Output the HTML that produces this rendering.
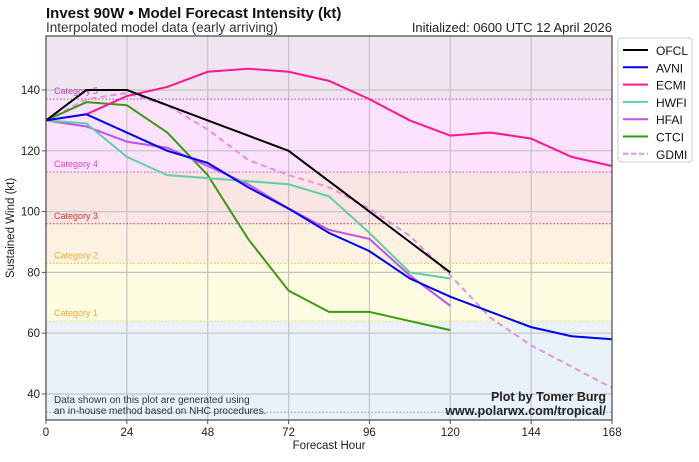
<!DOCTYPE html>
<html><head><meta charset="utf-8"><style>
body{margin:0;background:#fff;width:699px;height:457px;overflow:hidden}
svg{font-family:"Liberation Sans",sans-serif}
</style></head><body>
<svg id="s" width="699" height="457" viewBox="0 0 699 457" xmlns="http://www.w3.org/2000/svg">
<g id="bands"></g>
<g id="grid"></g>
<g id="lines"></g>
<rect x="46" y="36" width="566" height="384" fill="none" stroke="#555" stroke-width="1.3"/>
<text x="46" y="18" font-size="15" font-weight="bold" fill="#111">Invest 90W • Model Forecast Intensity (kt)</text>
<text x="46" y="32" font-size="13.5" fill="#333">Interpolated model data (early arriving)</text>
<text x="612" y="32" font-size="13" fill="#222" text-anchor="end">Initialized: 0600 UTC 12 April 2026</text>
<text x="54" y="403" font-size="10" fill="#333">Data shown on this plot are generated using</text>
<text x="54" y="414" font-size="10" fill="#333">an in-house method based on NHC procedures.</text>
<text x="606" y="401" font-size="12.5" font-weight="bold" fill="#222" text-anchor="end">Plot by Tomer Burg</text>
<text x="606" y="415" font-size="12.5" font-weight="bold" fill="#222" text-anchor="end">www.polarwx.com/tropical/</text>
<text x="329" y="449" font-size="11.5" fill="#222" text-anchor="middle">Forecast Hour</text>
<text transform="translate(14,228) rotate(-90)" font-size="11.5" fill="#222" text-anchor="middle">Sustained Wind (kt)</text>
<g id="legend">
<rect x="618" y="38" width="74" height="124" rx="3" fill="#fff" stroke="#ccc"/>
</g>
</svg>
<script>
const X=h=>46+h*566/168, Y=v=>90+(140-v)*3.04;
const ns="http://www.w3.org/2000/svg";
function el(p,t,a,txt){const e=document.createElementNS(ns,t);for(const k in a)e.setAttribute(k,a[k]);if(txt!==undefined)e.textContent=txt;document.getElementById(p).appendChild(e);return e;}
const bands=[[158,137,"#f0e4f0"],[137,113,"#fde2fd"],[113,96,"#fae4e4"],[96,83,"#fdf1e2"],[83,64,"#fefde2"],[64,31.5,"#e9f1f9"]];
bands.forEach(b=>el("bands","rect",{x:46,y:Y(b[0]),width:566,height:Y(b[1])-Y(b[0]),fill:b[2]}));
for(let h=24;h<168;h+=24)el("grid","line",{x1:X(h),x2:X(h),y1:36,y2:420,stroke:"#c4c4c4","stroke-width":1.2});
for(let v=40;v<=140;v+=20)el("grid","line",{x1:46,x2:612,y1:Y(v),y2:Y(v),stroke:"#c4c4c4","stroke-width":1.2});
[[137,"#c040c0","Category 5"],[113,"#e040e0","Category 4"],[96,"#e03030","Category 3"],[83,"#f0b030","Category 2"],[64,"#f0e040","Category 1"],[34,"#60a0f0",null]].forEach(c=>{
el("grid","line",{x1:46,x2:612,y1:Y(c[0]),y2:Y(c[0]),stroke:c[1],"stroke-width":1,"stroke-dasharray":"1.5,2"});
if(c[2])el("grid","text",{x:54,y:Y(c[0])-5,"font-size":9,fill:c[1]==="#f0e040"?"#f0a830":c[1]},c[2]);});
for(let h=0;h<=168;h+=24){el("grid","line",{x1:X(h),x2:X(h),y1:420,y2:424,stroke:"#555"});el("grid","text",{x:X(h),y:436,"font-size":11.5,fill:"#222","text-anchor":"middle"},h);}
for(let v=40;v<=140;v+=20){el("grid","line",{x1:42,x2:46,y1:Y(v),y2:Y(v),stroke:"#555"});el("grid","text",{x:40,y:Y(v)+4,"font-size":11.5,fill:"#222","text-anchor":"end"},v);}
const S=[
["OFCL","#000",[130,140,140,135,130,125,120,110,100,90,80],0],
["AVNI","#0000ee",[130,132,126,120,116,108,101,93,87,78,72,67,62,59,58],0],
["ECMI","#ff1493",[130,132,138,141,146,147,146,143,137,130,125,126,124,118,115],0],
["HWFI","#5fcfa8",[130,129,118,112,111,110,109,105,93,80,78],0],
["HFAI","#c050f0",[130,128,123,121,115,109,101,94,91,79,69],0],
["CTCI","#3a9a10",[130,136,135,126,112,91,74,67,67,64,61],0],
["GDMI","#e890e8",[130,137,139,135,127,117,112,108,101,92,79,65,56,49,42],1]];
S.slice().reverse().forEach(s=>{el("lines","polyline",{points:s[2].map((v,i)=>X(i*12)+","+Y(v)).join(" "),fill:"none",stroke:s[1],"stroke-width":2,"stroke-dasharray":s[3]?"6,4":"none"});});
S.forEach((s,i)=>{const y=51+i*17.3;el("legend","line",{x1:623,x2:648,y1:y-1,y2:y-1,stroke:s[1],"stroke-width":2,"stroke-dasharray":s[3]?"5,3":"none"});el("legend","text",{x:656,y:y+4,"font-size":12,fill:"#111"},s[0]);});
</script>
</body></html>
